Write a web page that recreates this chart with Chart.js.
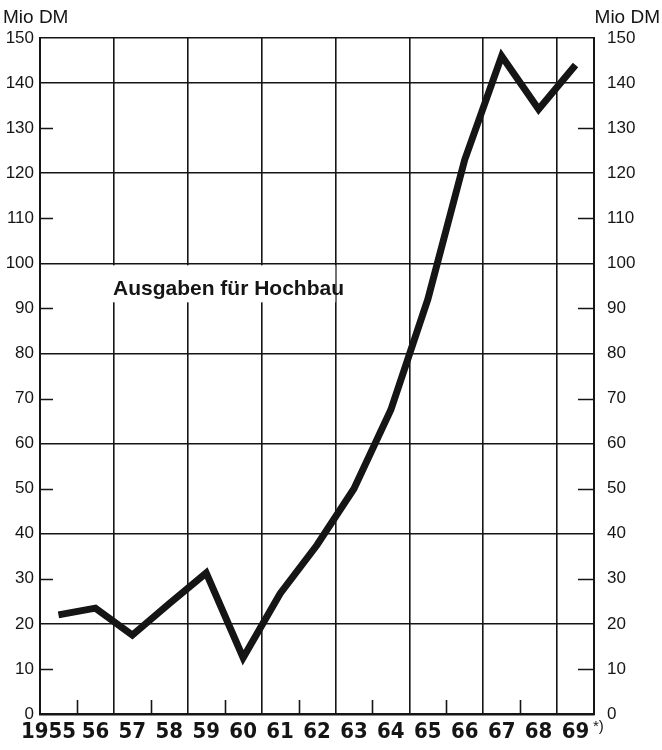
<!DOCTYPE html>
<html lang="de">
<head>
<meta charset="utf-8">
<title>Ausgaben für Hochbau</title>
<script src="https://cdn.jsdelivr.net/npm/chart.js@4/dist/chart.umd.min.js"></script>
<style>
  html, body { margin: 0; padding: 0; background: #fff; }
  #wrap { width: 662px; height: 750px; }
</style>
</head>
<body>
<div id="wrap"><canvas id="chart" width="662" height="750"></canvas></div>
<script>
// Ausgaben für Hochbau 1955-1969, Mio DM

const YEARS = ['1955', '56', '57', '58', '59', '60', '61', '62', '63', '64', '65', '66', '67', '68', '69'];
const AUSGABEN = [22, 23.5, 17.5, 24.5, 31.3, 12.5, 26.7, 37.5, 50, 67.5, 92, 123, 146, 134.2, 144];
const Y_MIN = 0;
const Y_MAX = 150;
const Y_STEP = 10;
const UNIT = 'Mio DM';
const SERIES_LABEL = 'Ausgaben für Hochbau';
const FOOTNOTE_MARK = '*)';

const INK = '#151515';
const NUM_FONT = "'Liberation Sans', 'DejaVu Sans', sans-serif";
const YEAR_FONT = "'DejaVu Sans Condensed', 'Liberation Sans', sans-serif";

// kurze Striche (ungerade Zehner, Zwischenjahre), Textfeld, Einheit
const decorations = {
  id: 'decorations',
  beforeDatasetsDraw(chart) {
    const { ctx, chartArea: a, scales: { x, y } } = chart;
    ctx.save();
    ctx.strokeStyle = INK;
    ctx.lineWidth = 1.6;
    ctx.beginPath();
    for (let v = Y_MIN + Y_STEP; v < Y_MAX; v += 2 * Y_STEP) {
      const py = Math.round(y.getPixelForValue(v)) + 0.5;
      ctx.moveTo(a.left, py);
      ctx.lineTo(a.left + 13, py);
      ctx.moveTo(a.right, py);
      ctx.lineTo(a.right - 16, py);
    }
    for (let i = 1; i < YEARS.length; i += 2) {
      const px = Math.round((x.getPixelForValue(i - 1) + x.getPixelForValue(i)) / 2) + 0.5;
      ctx.moveTo(px, a.bottom);
      ctx.lineTo(px, a.bottom - 14);
    }
    ctx.stroke();

    // weißes Feld hinter der Beschriftung
    const top = y.getPixelForValue(100) + 2;
    ctx.fillStyle = '#fff';
    ctx.fillRect(x.getPixelForValue(1) - 20, top, 260, 37);
    ctx.fillStyle = INK;
    ctx.font = "bold 21px 'Liberation Sans', 'DejaVu Sans', sans-serif";
    ctx.textBaseline = 'alphabetic';
    ctx.textAlign = 'left';
    ctx.fillText(SERIES_LABEL, 113, 295);
    ctx.restore();
  },
  afterDraw(chart) {
    const { ctx } = chart;
    ctx.save();
    ctx.fillStyle = INK;
    ctx.font = "19px 'Liberation Sans', 'DejaVu Sans', sans-serif";
    ctx.textBaseline = 'alphabetic';
    ctx.textAlign = 'left';
    ctx.fillText(UNIT, 3, 23);
    ctx.textAlign = 'right';
    ctx.fillText(UNIT, 660, 23);
    ctx.font = "15px 'Liberation Sans', 'DejaVu Sans', sans-serif";
    ctx.textAlign = 'left';
    ctx.fillText(FOOTNOTE_MARK, 593, 731);
    ctx.restore();
  },
};

new Chart(document.getElementById('chart'), {
  type: 'line',
  data: {
    labels: YEARS,
    datasets: [{
      label: SERIES_LABEL,
      data: AUSGABEN,
      borderColor: INK,
      borderWidth: 7,
      borderJoinStyle: 'miter',
      borderCapStyle: 'butt',
      pointRadius: 0,
      tension: 0,
      fill: false,
    }],
  },
  options: {
    responsive: false,
    animation: false,
    layout: { padding: { top: 38, left: 0, right: 0, bottom: 0 } },
    plugins: {
      legend: { display: false },
      tooltip: { enabled: false },
    },
    scales: {
      x: {
        type: 'category',
        offset: true,
        afterFit: (s) => { s.height = 36; },
        grid: {
          offset: true,
          drawTicks: false,
          lineWidth: 1.6,
          color: (c) => (c.index !== undefined && c.index % 2 === 0 ? INK : 'rgba(0,0,0,0)'),
        },
        border: { display: true, color: INK, width: 2.5 },
        ticks: {
          color: INK,
          padding: 5,
          maxRotation: 0,
          autoSkip: false,
          // "1955" sitzt links von der Bandmitte
          callback: (v, i) => (i === 0 ? YEARS[0] + '\u2002\u2002' : YEARS[i]),
          font: { family: YEAR_FONT, size: 22, weight: 'bold' },
        },
      },
      y: {
        position: 'left',
        min: Y_MIN,
        max: Y_MAX,
        afterFit: (s) => { s.width = 40; },
        grid: {
          drawTicks: false,
          lineWidth: 1.6,
          color: (c) => (c.tick && (c.tick.value % 20 === 0 || c.tick.value === Y_MAX) ? INK : 'rgba(0,0,0,0)'),
        },
        border: { display: true, color: INK, width: 2 },
        ticks: {
          stepSize: Y_STEP,
          color: INK,
          padding: 6,
          font: { family: NUM_FONT, size: 17 },
        },
      },
      y1: {
        position: 'right',
        min: Y_MIN,
        max: Y_MAX,
        afterFit: (s) => { s.width = 68; },
        grid: { display: false, drawTicks: false },
        border: { display: true, color: INK, width: 2 },
        ticks: {
          stepSize: Y_STEP,
          color: INK,
          padding: 13,
          font: { family: NUM_FONT, size: 17 },
        },
      },
    },
  },
  plugins: [decorations],
});
</script>
</body>
</html>
